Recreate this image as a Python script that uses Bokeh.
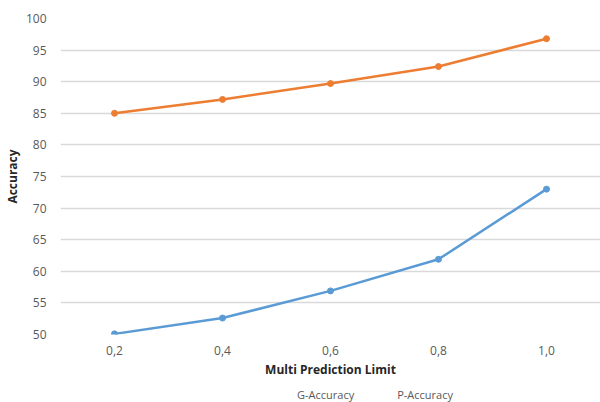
from bokeh.plotting import figure
from bokeh.layouts import column
from bokeh.models import FactorRange, Range1d, Legend, LegendItem, ColumnDataSource
from bokeh.embed import file_html
from bokeh.resources import INLINE

# Multi prediction limit categories and accuracy series
limits = ["0,2", "0,4", "0,6", "0,8", "1,0"]
g_accuracy = [50.1, 52.6, 56.9, 61.9, 73.0]
p_accuracy = [85.0, 87.2, 89.7, 92.4, 96.8]
y_ticks = [50, 55, 60, 65, 70, 75, 80, 85, 90, 95, 100]
series_names = ["G-Accuracy", "P-Accuracy"]

BLUE = "#5B9BD5"
ORANGE = "#ED7D31"
TEXT = "#595959"
GRID = "#D9D9D9"
FONT = "Open Sans"

p = figure(
    frame_width=540, frame_height=316,
    x_range=FactorRange(factors=limits, range_padding=0),
    y_range=Range1d(50, 100),
    output_backend="svg", toolbar_location=None,
    min_border_left=58, min_border_right=0, min_border_top=18, min_border_bottom=50,
    outline_line_color=None, background_fill_color="white", border_fill_color="white",
)

src = ColumnDataSource(dict(x=limits, g=g_accuracy, p=p_accuracy))

p.line("x", "g", source=src, line_color=BLUE, line_width=2.5)
p.scatter("x", "g", source=src, size=6, fill_color=BLUE, line_color=BLUE)
p.line("x", "p", source=src, line_color=ORANGE, line_width=2.5)
p.scatter("x", "p", source=src, size=6, fill_color=ORANGE, line_color=ORANGE)

# y axis
p.yaxis.ticker = y_ticks
p.yaxis.axis_line_color = None
p.yaxis.major_tick_line_color = None
p.yaxis.minor_tick_line_color = None
p.yaxis.major_label_text_font = FONT
p.yaxis.major_label_text_font_size = "12px"
p.yaxis.major_label_text_color = TEXT
p.yaxis.major_label_standoff = 8
p.yaxis.axis_label = "Accuracy"
p.yaxis.axis_label_text_font = FONT
p.yaxis.axis_label_text_font_size = "12px"
p.yaxis.axis_label_text_font_style = "bold"
p.yaxis.axis_label_text_color = "#262626"
p.yaxis.axis_label_standoff = 2

# x axis with its title
p.xaxis.axis_line_color = None
p.xaxis.major_tick_line_color = None
p.xaxis.minor_tick_line_color = None
p.xaxis.major_label_text_font = FONT
p.xaxis.major_label_text_font_size = "12px"
p.xaxis.major_label_text_color = TEXT
p.xaxis.major_label_standoff = 5
p.xaxis.axis_label = "Multi Prediction Limit"
p.xaxis.axis_label_text_font = FONT
p.xaxis.axis_label_text_font_size = "12px"
p.xaxis.axis_label_text_font_style = "bold"
p.xaxis.axis_label_text_color = "#262626"
p.xaxis.axis_label_standoff = 3

p.xgrid.grid_line_color = None
p.ygrid.grid_line_color = GRID
p.ygrid.grid_line_width = 1.5

# Legend strip under the chart
leg = figure(
    width=600, height=18,
    x_range=Range1d(0, 1), y_range=Range1d(0, 1),
    x_axis_location=None, y_axis_location=None,
    output_backend="svg", toolbar_location=None,
    min_border=0, outline_line_color=None,
    background_fill_color="white", border_fill_color="white",
)
leg.xgrid.grid_line_color = None
leg.ygrid.grid_line_color = None

items = []
for name, color in zip(series_names, [BLUE, ORANGE]):
    ln = leg.line(x=[], y=[], line_color=color, line_width=2.5)
    dot = leg.scatter(x=[], y=[], size=6, fill_color=color, line_color=color)
    items.append(LegendItem(label=name, renderers=[ln, dot]))

legend = Legend(
    items=items, orientation="horizontal", location=(216, 0),
    label_text_font=FONT, label_text_font_size="11px", label_text_color=TEXT,
    label_height=12, glyph_width=18, glyph_height=12, label_standoff=3, spacing=22,
    border_line_color=None, background_fill_alpha=0, padding=0, margin=0,
)
leg.add_layout(legend, "center")

layout = column(p, leg, spacing=0)

open("out.html", "w").write(file_html(layout, INLINE))
